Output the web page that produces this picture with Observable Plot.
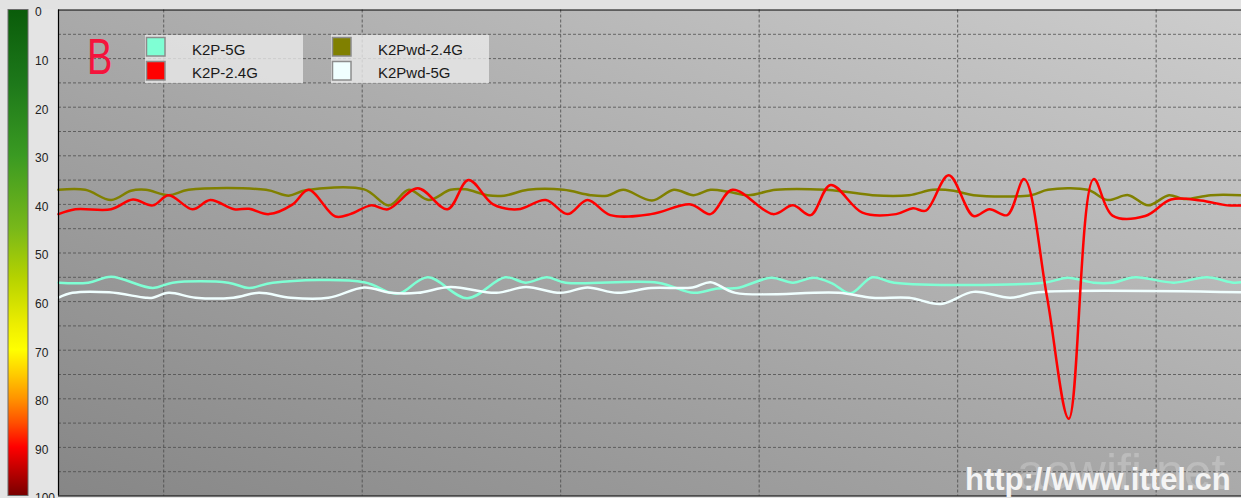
<!DOCTYPE html>
<html><head><meta charset="utf-8">
<script src="https://cdn.jsdelivr.net/npm/d3@7"></script>
<script src="https://cdn.jsdelivr.net/npm/@observablehq/plot@0.6"></script>
<style>
html,body{margin:0;padding:0;background:#e4e4e4;overflow:hidden}
#chart{position:relative;width:1241px;height:498px}
</style></head><body><div id="chart"></div>
<script>
// ---- data (time in s, signal in -dBm) ----
const seriesNames = ["K2P-5G", "K2P-2.4G", "K2Pwd-2.4G", "K2Pwd-5G"];
const seriesColors = ["#7fffd4", "#ff0000", "#808000", "#f0ffff"];

const k2p5g = [[9.4,56.1],[12.4,56.1],[14.7,54.9],[18.9,57.2],[20.9,56.1],[26.5,56.1],[28.6,57.2],[31.0,56.1],
  [40.2,56.0],[42.9,58.2],[43.9,58.2],[46.6,55.0],[50.6,59.3],[54.4,55.0],[56.5,56.1],[58.6,55.0],[60.5,56.1],
  [69.8,56.1],[73.4,58.2],[75.8,57.3],[77.8,57.2],[81.2,55.1],[83.4,56.1],[85.5,55.1],[87.3,56.2],[89.2,58.3],
  [91.4,55.0],[93.6,56.1],[108.7,56.1],[111.1,55.1],[113.7,56.1],[115.6,56.1],[117.9,55.0],[121.8,56.1],
  [125.1,55.0],[127.8,56.1],[128.6,56.0]];

const k2p24g = [[9.4,42.0],[11.1,41.0],[14.7,41.0],[16.9,39.0],[18.9,40.2],[20.5,38.1],[22.9,41.0],[24.7,39.1],
  [27.1,41.0],[28.6,40.9],[30.6,42.0],[33.0,40.0],[34.6,37.0],[37.3,42.5],[38.8,42.0],[40.9,40.2],[42.6,41.0],
  [45.6,36.7],[48.6,41.0],[50.7,35.0],[53.2,40.0],[55.7,41.0],[58.5,39.1],[60.7,42.0],[62.7,39.1],[65.0,42.2],
  [69.1,42.0],[73.1,40.0],[75.1,42.0],[77.3,37.0],[81.4,42.0],[83.4,40.2],[85.2,42.2],[87.2,36.0],[90.4,41.7],
  [93.8,42.0],[95.5,40.8],[96.8,41.3],[99.1,34.0],[101.6,42.4],[103.2,41.0],[105.0,42.2],[106.7,34.8],
  [109.0,59.0],[111.2,84.1],[113.7,34.8],[115.6,42.3],[118.9,42.4],[121.5,39.0],[124.5,39.2],[127.2,40.2],[128.6,40.2]];

const k2pwd24g = [[9.4,37.0],[12.1,37.0],[14.7,39.1],[16.7,37.2],[18.2,37.0],[20.5,38.1],[22.5,37.0],[30.3,37.0],
  [32.6,38.2],[34.3,37.1],[40.2,36.9],[42.7,40.2],[44.7,37.0],[46.7,39.1],[48.9,37.0],[50.4,36.9],[52.6,38.1],
  [54.3,38.2],[56.7,37.0],[60.3,37.0],[63.0,38.1],[64.7,38.2],[66.3,37.0],[69.2,39.2],[71.4,37.0],[73.4,38.1],
  [75.1,37.0],[76.9,37.4],[78.9,38.1],[81.7,37.0],[86.7,37.0],[88.7,37.4],[91.4,38.1],[95.1,38.1],[97.5,37.0],
  [99.6,37.2],[101.6,38.1],[107.4,38.1],[109.1,37.0],[113.1,37.0],[115.1,39.1],[117.2,38.1],[119.2,40.2],
  [121.3,38.1],[122.8,38.9],[125.5,38.1],[128.6,38.1]];

const k2pwd5g = [[9.4,59.2],[10.8,58.2],[14.5,58.1],[18.2,59.2],[18.9,59.2],[20.5,58.2],[23.2,59.2],[27.0,59.2],
  [29.6,58.2],[32.8,59.2],[36.6,59.2],[40.2,57.1],[42.9,58.2],[45.6,58.2],[48.9,57.0],[53.5,58.2],[56.5,57.0],
  [60.0,58.2],[62.7,57.1],[65.7,58.2],[69.1,57.2],[73.3,57.1],[75.1,56.0],[77.6,58.2],[88.0,58.2],[91.4,59.2],
  [95.1,59.2],[98.3,60.5],[101.6,58.0],[105.3,59.2],[108.1,58.1],[128.6,58.1]];

const xGrid = [20, 40, 60, 80, 100, 120];
const yGrid = [5,10,15,20,25,30,35,40,45,50,55,60,65,70,75,80,85,90,95];
const yTickLabels = [0,10,20,30,40,50,60,70,80,90,100];

const seriesData = [k2p5g, k2p24g, k2pwd24g, k2pwd5g];
const rows = i => seriesData[i].map(([t, v]) => ({name: seriesNames[i], t, v}));
const drawOrder = [2, 0, 3, 1];
const FONT = "'Liberation Sans', Arial, sans-serif";

const chart = Plot.plot({
  width: 1241, height: 498,
  marginTop: 9.5, marginBottom: 2.5, marginLeft: 58, marginRight: 0,
  style: {background: "#e4e4e4", fontFamily: FONT},
  x: {domain: [9.4, 128.6], axis: null},
  y: {domain: [0, 100], reverse: true, axis: null},
  marks: [
    Plot.frame({fill: "url(#bgGrad)", stroke: "none"}),
    Plot.ruleY(yGrid, {stroke: "#4a4a4a", strokeOpacity: 0.75, strokeDasharray: "3,2"}),
    Plot.ruleX(xGrid, {stroke: "#4a4a4a", strokeOpacity: 0.8, strokeDasharray: "3,2"}),
    ...drawOrder.map(i => Plot.line(rows(i), {x: "t", y: "v", stroke: seriesColors[i], strokeWidth: 2.5, curve: "catmull-rom"})),
    Plot.ruleY([0, 100], {stroke: "#000", strokeWidth: 1.2}),
    Plot.ruleX([9.4], {stroke: "#000", strokeWidth: 1.2}),
    Plot.axisY(yTickLabels, {anchor: "left", label: null, tickSize: 0, tickPadding: 0, textAnchor: "start", dx: -23.5, dy: 2.5, fontSize: 12, fill: "#222"})
  ]
});
document.getElementById("chart").appendChild(chart);

const yS = chart.scale("y");
const svg = d3.select(chart);
const defs = svg.insert("defs", ":first-child");
const bg = defs.append("linearGradient").attr("id", "bgGrad").attr("x1", 0).attr("y1", 1).attr("x2", 1).attr("y2", 0);
bg.append("stop").attr("offset", 0).attr("stop-color", "#868686");
bg.append("stop").attr("offset", 1).attr("stop-color", "#cdcdcd");
const bar = defs.append("linearGradient").attr("id", "barGrad").attr("x1", 0).attr("y1", 0).attr("x2", 0).attr("y2", 1);
[[0,"#0a5c0a"],[0.15,"#1d781a"],[0.3,"#3a9a22"],[0.45,"#78b81a"],[0.55,"#b4d200"],[0.65,"#eeee00"],[0.70,"#ffff00"],
 [0.75,"#ffcc00"],[0.80,"#ff9400"],[0.85,"#ff5000"],[0.90,"#ff0000"],[1,"#780000"]]
  .forEach(([o, c]) => bar.append("stop").attr("offset", o).attr("stop-color", c));

// top strip
svg.insert("rect", "defs + *").attr("x", 0).attr("y", 0).attr("width", 1241).attr("height", 9).attr("fill", "#e2e2e2");
// colour bar
svg.append("rect").attr("x", 8).attr("y", yS.apply(0)).attr("width", 20).attr("height", yS.apply(100) - yS.apply(0))
  .attr("fill", "url(#barGrad)").attr("stroke", "#6a6a6a").attr("stroke-width", 1);

// legend
const boxes = [{x: 145, items: [0, 1]}, {x: 331, items: [2, 3]}];
boxes.forEach(b => {
  const g = svg.append("g").attr("transform", `translate(${b.x},35)`);
  g.append("rect").attr("width", 158).attr("height", 48).attr("fill", "rgba(236,236,236,0.78)");
  b.items.forEach((i, r) => {
    g.append("rect").attr("x", 1.5).attr("y", 2.5 + r * 24).attr("width", 18.5).attr("height", 18.5)
      .attr("fill", seriesColors[i]).attr("stroke", "#8c8c8c").attr("stroke-width", 1.5);
    g.append("text").attr("x", 47).attr("y", 19.5 + r * 23.5).attr("font-size", 15).attr("fill", "#1a1a1a")
      .attr("text-anchor", "start").attr("font-family", FONT).text(seriesNames[i]);
  });
});

// panel label
svg.append("text").attr("transform", "translate(87,74) scale(0.76,1)").attr("font-size", 50)
  .attr("text-anchor", "start").attr("font-family", FONT).attr("fill", "#f5143c").text("B");

// watermarks
svg.append("text").attr("x", 1017).attr("y", 489).attr("font-size", 50).attr("fill", "rgba(255,255,255,0.22)")
  .attr("text-anchor", "start").attr("font-family", FONT).text("acwifi.net");
svg.append("text").attr("x", 965).attr("y", 490).attr("font-size", 31).attr("font-weight", "bold").attr("fill", "#f4f4f4")
  .attr("text-anchor", "start").attr("font-family", FONT).text("http://www.ittel.cn");
</script></body></html>
